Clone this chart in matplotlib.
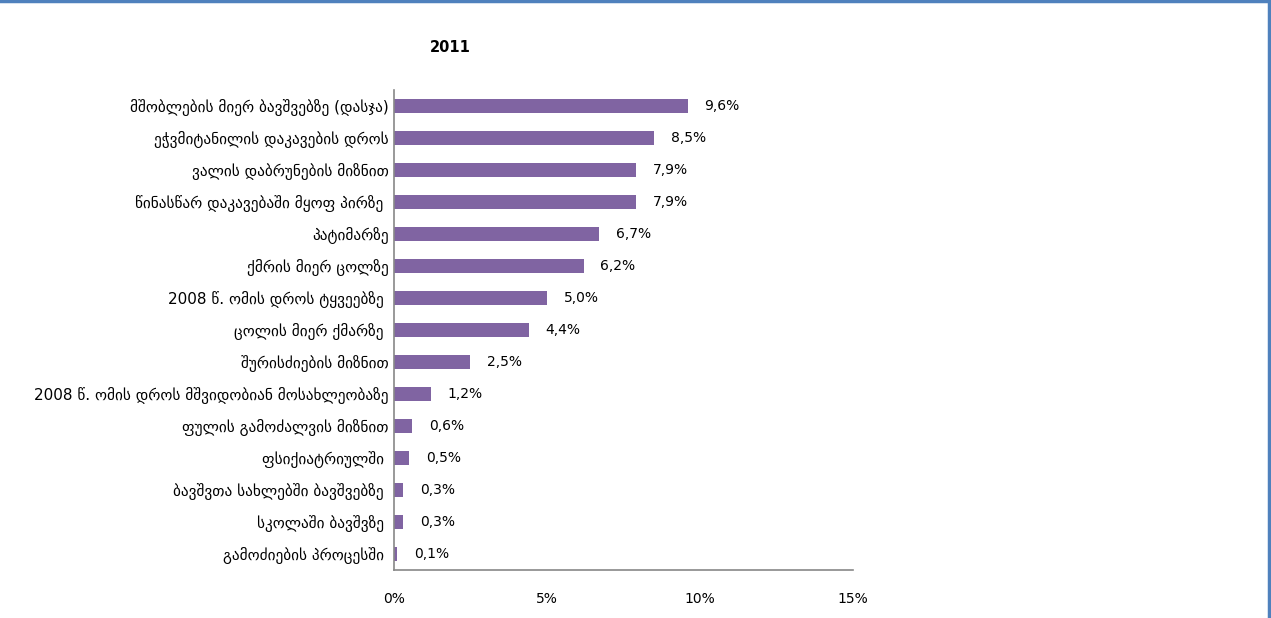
import matplotlib
matplotlib.use("Agg")
from matplotlib import pyplot as plt
from matplotlib.lines import Line2D

plt.rcParams['font.family'] = ['DejaVu Sans']

categories = [
    "მშობლების მიერ ბავშვებზე (დასჯა)",
    "ეჭვმიტანილის დაკავების დროს",
    "ვალის დაბრუნების მიზნით",
    "წინასწარ დაკავებაში მყოფ პირზე ",
    "პატიმარზე",
    "ქმრის მიერ ცოლზე",
    "2008 წ. ომის დროს ტყვეებზე ",
    "ცოლის მიერ ქმარზე ",
    "შურისძიების მიზნით",
    "2008 წ. ომის დროს მშვიდობიან მოსახლეობაზე",
    "ფულის გამოძალვის მიზნით",
    "ფსიქიატრიულში ",
    "ბავშვთა სახლებში ბავშვებზე ",
    "სკოლაში ბავშვზე ",
    "გამოძიების პროცესში ",
]
values = [9.6, 8.5, 7.9, 7.9, 6.7, 6.2, 5.0, 4.4, 2.5, 1.2, 0.6, 0.5, 0.3, 0.3, 0.1]
x_ticks = [0, 5, 10, 15]
title = "2011"

fig = plt.figure(figsize=(12.71, 6.18), dpi=100)
ax = fig.add_axes([0.31, 0.0777, 0.361, 0.7767])

y = list(range(len(values)))[::-1]
ax.barh(y, values, height=0.44, color='#8064A2')
for yi, v in zip(y, values):
    ax.text(v + 0.55, yi, f"{v:.1f}%".replace('.', ','), va='center', ha='left', fontsize=10, color='black')

ax.set_xlim(0, 15)
ax.set_ylim(-0.5, len(values) - 0.5)
ax.set_yticks(y)
ax.set_yticklabels(categories, fontsize=11)
ax.set_xticks(x_ticks)
ax.set_xticklabels([f"{t}%" for t in x_ticks], fontsize=10)
ax.tick_params(axis='both', length=0)
ax.tick_params(axis='y', pad=4)
ax.tick_params(axis='x', pad=16)
for s in ['top', 'right']:
    ax.spines[s].set_visible(False)
for s in ['left', 'bottom']:
    ax.spines[s].set_color('#888888')
    ax.spines[s].set_linewidth(1.2)

fig.text(450 / 1271, 1 - 48 / 618, title, ha='center', va='center', fontsize=10.5, fontweight='bold')

# chart border (blue, top and right)
fig.add_artist(Line2D([0, 1], [0.998, 0.998], transform=fig.transFigure, color='#4F81BD', lw=2.5))
fig.add_artist(Line2D([0.9985, 0.9985], [0, 1], transform=fig.transFigure, color='#4F81BD', lw=2.5))

fig.savefig("out.png", dpi=100)
